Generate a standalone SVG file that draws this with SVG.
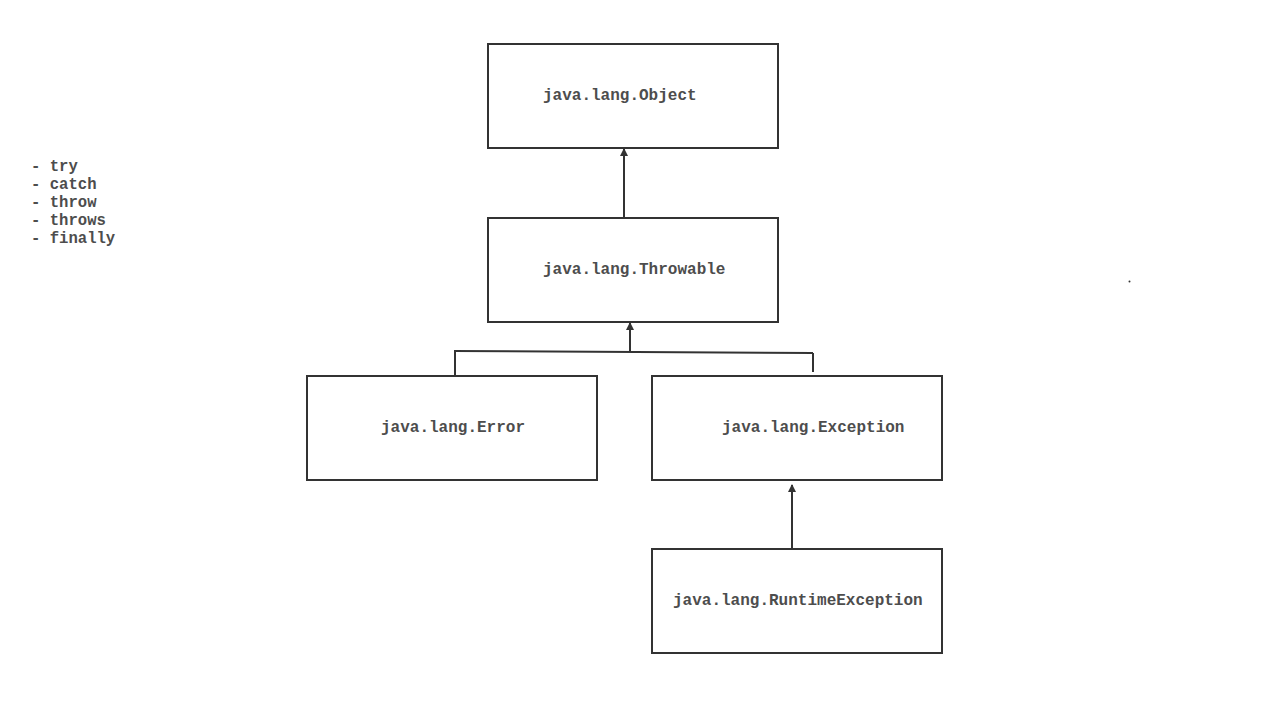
<svg xmlns="http://www.w3.org/2000/svg" width="1266" height="704" viewBox="0 0 1266 704">
<style>
.box{fill:#fff;stroke:#333;stroke-width:2}
.t{font-family:"Liberation Mono","Courier New",monospace;font-weight:bold;font-size:16px;fill:#4d4d4d}
.l{font-family:"Liberation Mono","Courier New",monospace;font-weight:bold;font-size:15.6px;fill:#4d4d4d}
.c{fill:none;stroke:#333;stroke-width:2}
</style>
<defs>
<marker id="a" markerWidth="8" markerHeight="8" refX="7" refY="4" orient="auto" markerUnits="userSpaceOnUse" viewBox="0 0 8 8">
<path d="M0,0 L8,4 L0,8 Z" fill="#333"/>
</marker>
</defs>
<rect width="1266" height="704" fill="#fff"/>
<g id="keywords">
<text class="l" x="31" y="171">- try</text>
<text class="l" x="31" y="189">- catch</text>
<text class="l" x="31" y="207">- throw</text>
<text class="l" x="31" y="225">- throws</text>
<text class="l" x="31" y="243">- finally</text>
</g>
<g id="object"><rect class="box" x="488" y="44" width="290" height="104"/><text class="t" x="543" y="100">java.lang.Object</text></g>
<g id="throwable"><rect class="box" x="488" y="218" width="290" height="104"/><text class="t" x="543" y="274">java.lang.Throwable</text></g>
<g id="error"><rect class="box" x="307" y="376" width="290" height="104"/><text class="t" x="381" y="432">java.lang.Error</text></g>
<g id="exception"><rect class="box" x="652" y="376" width="290" height="104"/><text class="t" x="722" y="432">java.lang.Exception</text></g>
<g id="runtime"><rect class="box" x="652" y="549" width="290" height="104"/><text class="t" x="673" y="605">java.lang.RuntimeException</text></g>
<g id="connectors">
<path class="c" d="M624,218 L624,149" marker-end="url(#a)"/>
<path class="c" d="M630,352 L630,323" marker-end="url(#a)"/>
<path class="c" d="M454,351 L813,353"/>
<path class="c" d="M455,351 L455,376"/>
<path class="c" d="M813,353 L813,372"/>
<path class="c" d="M792,549 L792,485" marker-end="url(#a)"/>
</g>
<circle cx="1129.5" cy="281.5" r="1" fill="#333"/>
</svg>
